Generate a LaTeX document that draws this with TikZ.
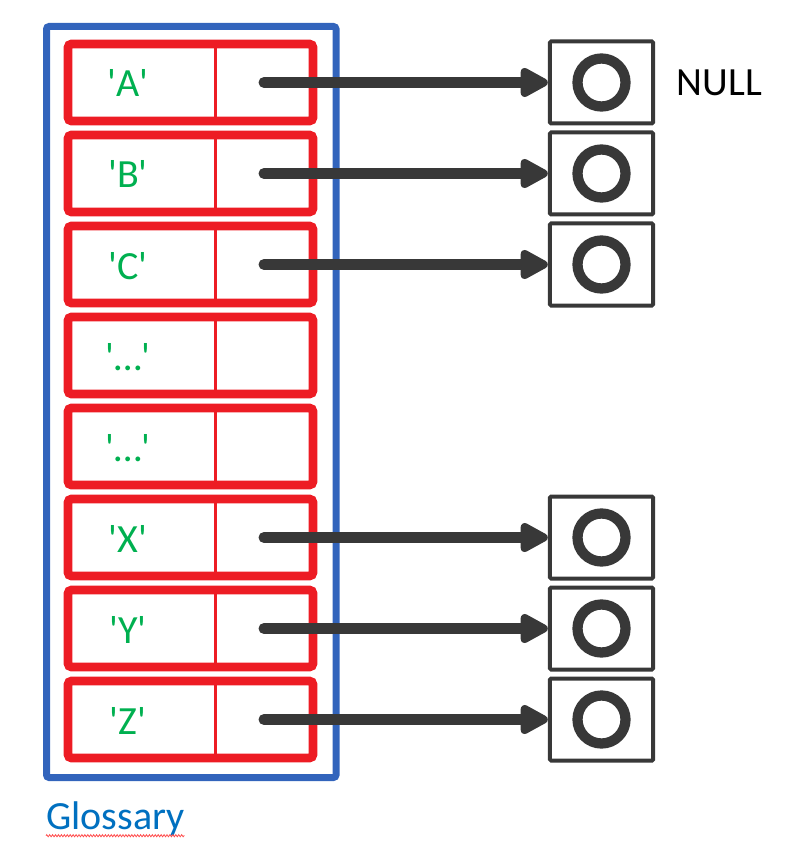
\documentclass[tikz,border=0pt]{standalone}
\usepackage{fontspec}
\setmainfont{Carlito}
\usetikzlibrary{arrows.meta,decorations.pathmorphing}
\definecolor{glossblue}{RGB}{50,100,188}
\definecolor{cellred}{RGB}{237,28,36}
\definecolor{keygreen}{RGB}{0,176,80}
\definecolor{ptrgray}{RGB}{56,56,56}
\definecolor{linkblue}{RGB}{0,112,192}
\tikzstyle{glossframe} = [draw=glossblue, line width=5.25pt, rounded corners=2pt]
\tikzstyle{rowframe} = [draw=cellred, line width=6.4pt, rounded corners=2.5pt]
\tikzstyle{divider} = [draw=cellred, line width=2.25pt]
\tikzstyle{keytext} = [text=keygreen, anchor=base, inner sep=0pt,
    font=\fontsize{30}{36}\selectfont]
\tikzstyle{nulltext} = [text=black, inner sep=0pt, font=\fontsize{30}{36}\selectfont]
\tikzstyle{glosstext} = [text=linkblue, inner sep=0pt, anchor=base west,
    font=\fontsize{30}{36}\selectfont]
\tikzstyle{target} = [draw=ptrgray, line width=3pt, rectangle, rounded corners=1pt,
    minimum width=77.6pt, minimum height=61.5pt, inner sep=0pt]
\tikzstyle{ring} = [draw=ptrgray, line width=7.7pt, circle, minimum size=36pt, inner sep=0pt]
\tikzstyle{pointer} = [draw=ptrgray, line width=8.25pt, line cap=round,
    -{Triangle[length=24pt,width=24pt,round]}]
\tikzstyle{squiggle} = [draw=red!70, line width=0.6pt, decorate,
    decoration={zigzag, amplitude=0.8pt, segment length=2.2pt}]

\begin{document}
\begin{tikzpicture}[x=0.75pt, y=-0.75pt]
    \useasboundingbox (0,0) rectangle (785,855);
    % glossary frame
    \draw [glossframe] (46.5,26.5) rectangle (336,777.5);
    % rows: key | pointer
    \foreach \k [count=\i from 0] in {A,B,C,…,…,X,Y,Z} {
        \draw [rowframe] (68,44+91*\i) rectangle (313,121+91*\i);
        \draw [divider] (215,44+91*\i) -- (215,121+91*\i);
        \node [keytext] (k\i) at (128,97+91*\i) {\textquotesingle\k\textquotesingle};
        \coordinate (p\i) at (264,82.5+91*\i);
    }
    % pointed-to boxes
    \foreach \i in {0,1,2,5,6,7} {
        \node [target] (t\i) at (601.5,82.5+91*\i) {};
        \node [ring] (o\i) at (t\i) {};
        \draw [pointer] (p\i) -- (t\i);
    }
    \node [nulltext] (null) at (719.5,82.5) {NULL};
    \node [glosstext] (gloss) at (46,829) {Glossary};
    \draw [squiggle] (gloss.south west) -- (gloss.south east);
\end{tikzpicture}
\end{document}
